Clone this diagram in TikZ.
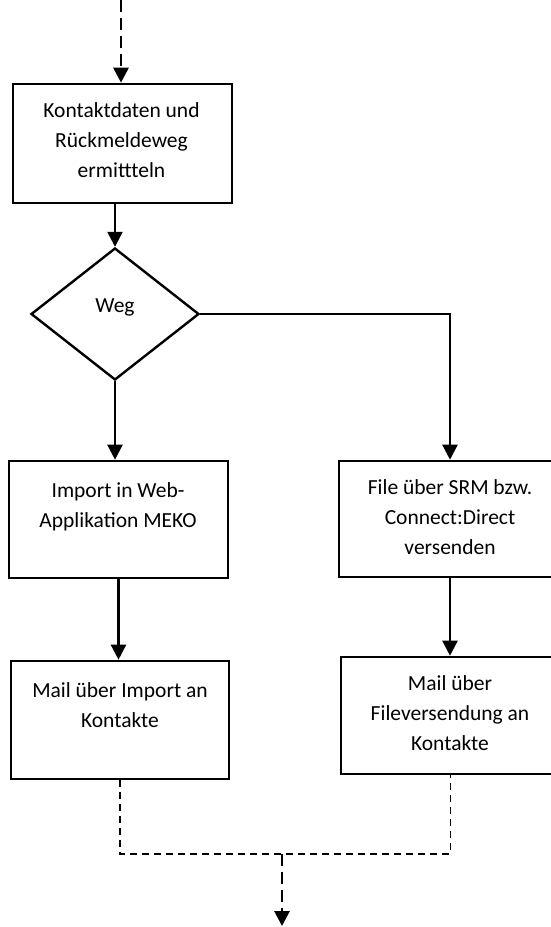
\documentclass[tikz,border=0pt]{standalone}
\usepackage{fontspec}
\setmainfont{Carlito}
\usetikzlibrary{arrows.meta,shapes.geometric}
\begin{document}
\begin{tikzpicture}[x=1pt,y=-1pt,
  box/.style={draw,rectangle,line width=2.6pt,inner sep=0pt},
  decision/.style={draw,diamond,line width=2.4pt,inner sep=0pt},
  txt/.style={align=center,inner sep=0pt,font=\fontsize{21.5}{30}\selectfont},
  tip/.style={-{Triangle[width=15pt,length=15pt]}},
  flow/.style={tip,line width=2.4pt},
  dflow/.style={tip,line width=2.8pt,dash pattern=on 12pt off 6pt},
  dline/.style={line width=1.8pt,dash pattern=on 7pt off 5pt}]
\useasboundingbox (0,0) rectangle (551,927);
\clip (0,0) rectangle (551,927);

% process steps and decision
\node[box,minimum width=219pt,minimum height=119pt] (A) at (122.5,143.5) {};
\node[txt] (At) at (121.5,140) {Kontaktdaten und\\Rückmeldeweg\\ermittteln};

\node[decision,minimum width=168pt,minimum height=132pt] (D) at (115,314) {};
\node[txt] (Dt) at (115,307) {Weg};

\node[box,minimum width=219pt,minimum height=117pt] (B) at (118.5,519.5) {};
\node[txt] (Bt) at (118,506.5) {Import in Web-\\Applikation MEKO};

\node[box,minimum width=222pt,minimum height=116pt] (C) at (450,519) {};
\node[txt] (Ct) at (450,517) {File über SRM bzw.\\Connect:Direct\\versenden};

\node[box,minimum width=218pt,minimum height=118pt] (E) at (120,720) {};
\node[txt] (Et) at (120,705.5) {Mail über Import an\\Kontakte};

\node[box,minimum width=219pt,minimum height=117pt] (F) at (450.5,715.5) {};
\node[txt] (Ft) at (450,713) {Mail über\\Fileversendung an\\Kontakte};

% connectors
\coordinate (in) at (121,0);
\draw[dflow] (in) -- (in |- A.north);
\draw[flow] (D.north |- A.south) -- (D.north);
\draw[flow] (D.east) -| (C.north);
\draw[flow] (D.south) -- (D.south |- B.north);
\draw[flow] (B.south) -- (B.south |- E.north);
\draw[flow] (C.south) -- (C.south |- F.north);

\coordinate (join) at (282,854);
\coordinate (out) at (282,926);
\draw[dline] (E.south) |- (join) -| (F.south);
\draw[dflow] (join) -- (out);
\end{tikzpicture}
\end{document}
